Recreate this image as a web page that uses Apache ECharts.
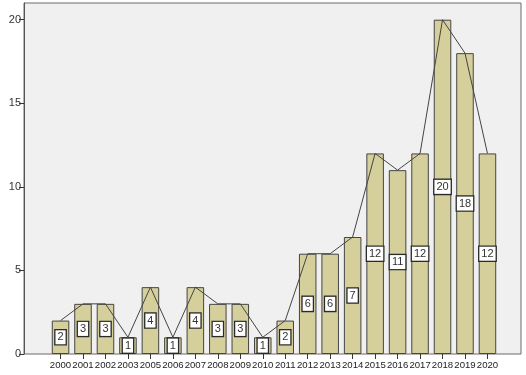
<!DOCTYPE html>
<html>
<head>
<meta charset="utf-8">
<script src="https://cdn.jsdelivr.net/npm/echarts@6/dist/echarts.min.js"></script>
<style>
  html, body { margin: 0; padding: 0; background: #fff; }
  #chart { width: 526px; height: 375px; }
</style>
</head>
<body>
<div id="chart"></div>
<script>
// 年份與篇數
const years  = ['2000','2001','2002','2003','2005','2006','2007','2008','2009','2010',
                '2011','2012','2013','2014','2015','2016','2017','2018','2019','2020']
const counts = [2, 3, 3, 1, 4, 1, 4, 3, 3, 1, 2, 6, 6, 7, 12, 11, 12, 20, 18, 12]
const yTicks = [0, 5, 10, 15, 20]

const chart = echarts.init(document.getElementById('chart'))

chart.setOption({
  animation: false,
  textStyle: { fontFamily: 'Liberation Sans, Arial, sans-serif' },
  grid: [
    // 外框（灰底 + 邊框）
    { left: 24, top: 3, width: 497, height: 351, show: true,
      backgroundColor: '#f0f0f0', borderColor: '#6a6a6a', borderWidth: 1 },
    // 長條實際所在區域
    { left: 49.3, top: 3, width: 449.4, height: 351 },
  ],
  xAxis: [
    { gridIndex: 0, type: 'value', show: false, min: 0, max: 1 },
    {
      gridIndex: 1,
      type: 'category',
      data: years,
      axisLine: { show: false },
      axisTick: { show: true, alignWithLabel: true, length: 5,
                  lineStyle: { color: '#333', width: 1 } },
      axisLabel: { color: '#222', fontSize: 9.6, margin: 6, interval: 0 },
    },
  ],
  yAxis: [
    {
      gridIndex: 0,
      type: 'value',
      min: 0, max: 21,
      splitLine: { show: false },
      axisLine: { show: true, lineStyle: { color: '#555', width: 1 } },
      axisTick: { show: true, length: 5, customValues: yTicks,
                  lineStyle: { color: '#333', width: 1 } },
      axisLabel: { color: '#333', fontSize: 11, margin: 3, customValues: yTicks },
    },
    { gridIndex: 1, type: 'value', min: 0, max: 21, show: false },
  ],
  series: [
    {
      type: 'bar',
      xAxisIndex: 1,
      yAxisIndex: 1,
      data: counts,
      barCategoryGap: '22%',
      itemStyle: { color: '#d4cf9b', borderColor: '#454545', borderWidth: 1 },
      label: {
        show: true,
        position: 'inside',
        color: '#333',
        fontSize: 11,
        backgroundColor: '#fff',
        borderColor: '#2a2a2a',
        borderWidth: 1.3,
        padding: [2, 2, 1, 2],
      },
    },
    {
      // 折線疊在長條上方
      type: 'line',
      xAxisIndex: 1,
      yAxisIndex: 1,
      data: counts,
      symbol: 'none',
      z: 3,
      lineStyle: { color: '#444', width: 1 },
    },
  ],
})
</script>
</body>
</html>
